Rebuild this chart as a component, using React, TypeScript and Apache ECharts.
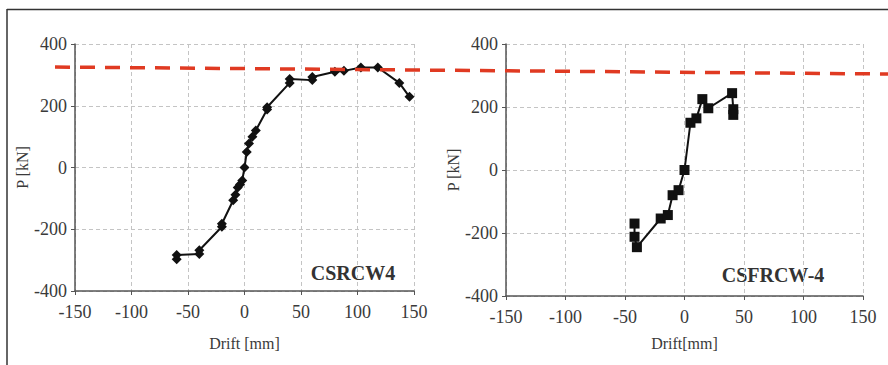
import React, { useEffect, useRef } from "react";
import * as echarts from "echarts";

// Left specimen CSRCW4 (diamond markers)
const leftDrift = [-60, -60, -40, -40, -20, -20, -10, -8, -6, -4, -2, 0, 2, 4, 7, 10, 20, 20, 40, 40, 60, 60, 80, 88, 103, 118, 137, 146];
const leftLoad = [-297, -283, -280, -268, -192, -182, -106, -88, -65, -55, -42, 0, 50, 78, 100, 120, 188, 195, 274, 287, 283, 293, 310, 313, 324, 324, 274, 229];

// Right specimen CSFRCW-4 (square markers)
const rightDrift = [-42, -42, -40, -20, -14, -10, -5, 0, 5, 10, 15, 20, 40, 41, 41];
const rightLoad = [-170, -212, -245, -154, -143, -80, -64, 0, 150, 164, 225, 196, 244, 193, 175];

const xTicks = [-150, -100, -50, 0, 50, 100, 150];
const yTicks = [-400, -200, 0, 200, 400];
const labels = ["CSRCW4", "CSFRCW-4"];

const SERIF = "serif";
const TXT = "#3a3a3a";

function xAxisCfg(gridIndex: number, name: string, nameGap: number) {
  return {
    type: "value",
    gridIndex,
    min: xTicks[0],
    max: xTicks[xTicks.length - 1],
    interval: 50,
    name,
    nameLocation: "middle",
    nameGap,
    nameTextStyle: { fontFamily: SERIF, fontSize: 16, color: TXT },
    axisLine: { show: true, onZero: false, lineStyle: { color: "#555", width: 1.5 } },
    axisTick: { show: true, length: 4, lineStyle: { color: "#555" } },
    axisLabel: { fontFamily: SERIF, fontSize: 18, color: TXT, margin: 12 },
    splitLine: { show: true, lineStyle: { color: "#c4c4c4", type: [4, 3], width: 1 } },
  };
}

function yAxisCfg(gridIndex: number, nameGap: number) {
  return {
    type: "value",
    gridIndex,
    min: yTicks[0],
    max: yTicks[yTicks.length - 1],
    interval: 200,
    name: "P [kN]",
    nameLocation: "middle",
    nameGap,
    nameTextStyle: { fontFamily: SERIF, fontSize: 16, color: TXT },
    axisLine: { show: true, onZero: false, lineStyle: { color: "#555", width: 1.5 } },
    axisTick: { show: true, length: 4, lineStyle: { color: "#555" } },
    axisLabel: { fontFamily: SERIF, fontSize: 18, color: TXT, margin: 8 },
    splitLine: { show: true, lineStyle: { color: "#c4c4c4", type: [4, 3], width: 1 } },
  };
}

export default function App() {
  const ref = useRef<HTMLDivElement>(null);

  useEffect(() => {
    if (!ref.current) return;
    const chart = echarts.init(ref.current, null, { renderer: "svg" });
    chart.setOption({
      animation: false,
      backgroundColor: "#ffffff",
      textStyle: { fontFamily: SERIF },
      grid: [
        { left: 75, top: 44, width: 339, height: 247 },
        { left: 506, top: 44, width: 357, height: 252 },
      ],
      xAxis: [xAxisCfg(0, "Drift [mm]", 44), xAxisCfg(1, "Drift[mm]", 39)],
      yAxis: [yAxisCfg(0, 40), yAxisCfg(1, 33)],
      series: [
        {
          type: "line",
          xAxisIndex: 0,
          yAxisIndex: 0,
          data: leftDrift.map((d, i) => [d, leftLoad[i]]),
          symbol: "diamond",
          symbolSize: 10,
          itemStyle: { color: "#111" },
          lineStyle: { color: "#111", width: 2 },
        },
        {
          type: "line",
          xAxisIndex: 1,
          yAxisIndex: 1,
          data: rightDrift.map((d, i) => [d, rightLoad[i]]),
          symbol: "rect",
          symbolSize: 10,
          itemStyle: { color: "#111" },
          lineStyle: { color: "#111", width: 2 },
        },
      ],
      graphic: [
        { type: "line", shape: { x1: 7, y1: 9.5, x2: 888, y2: 9.5 }, style: { stroke: "#333", lineWidth: 1.5 } },
        { type: "line", shape: { x1: 7, y1: 9, x2: 7, y2: 365 }, style: { stroke: "#333", lineWidth: 1.5 } },
        {
          type: "line",
          z: 100,
          shape: { x1: 55, y1: 67, x2: 888, y2: 74 },
          style: { stroke: "#e03a22", lineWidth: 3.5, lineDash: [15, 10] },
        },
        {
          type: "text",
          x: 353,
          y: 273,
          style: {
            text: labels[0],
            fontFamily: SERIF,
            fontWeight: "bold",
            fontSize: 20,
            fill: "#333",
            align: "center",
            verticalAlign: "middle",
          },
        },
        {
          type: "text",
          x: 773,
          y: 275,
          style: {
            text: labels[1],
            fontFamily: SERIF,
            fontWeight: "bold",
            fontSize: 20,
            fill: "#333",
            align: "center",
            verticalAlign: "middle",
          },
        },
      ],
    });
    return () => chart.dispose();
  }, []);

  return (
    <div
      ref={ref}
      style={{ position: "fixed", left: 0, top: 0, width: 888, height: 365 }}
    />
  );
}
